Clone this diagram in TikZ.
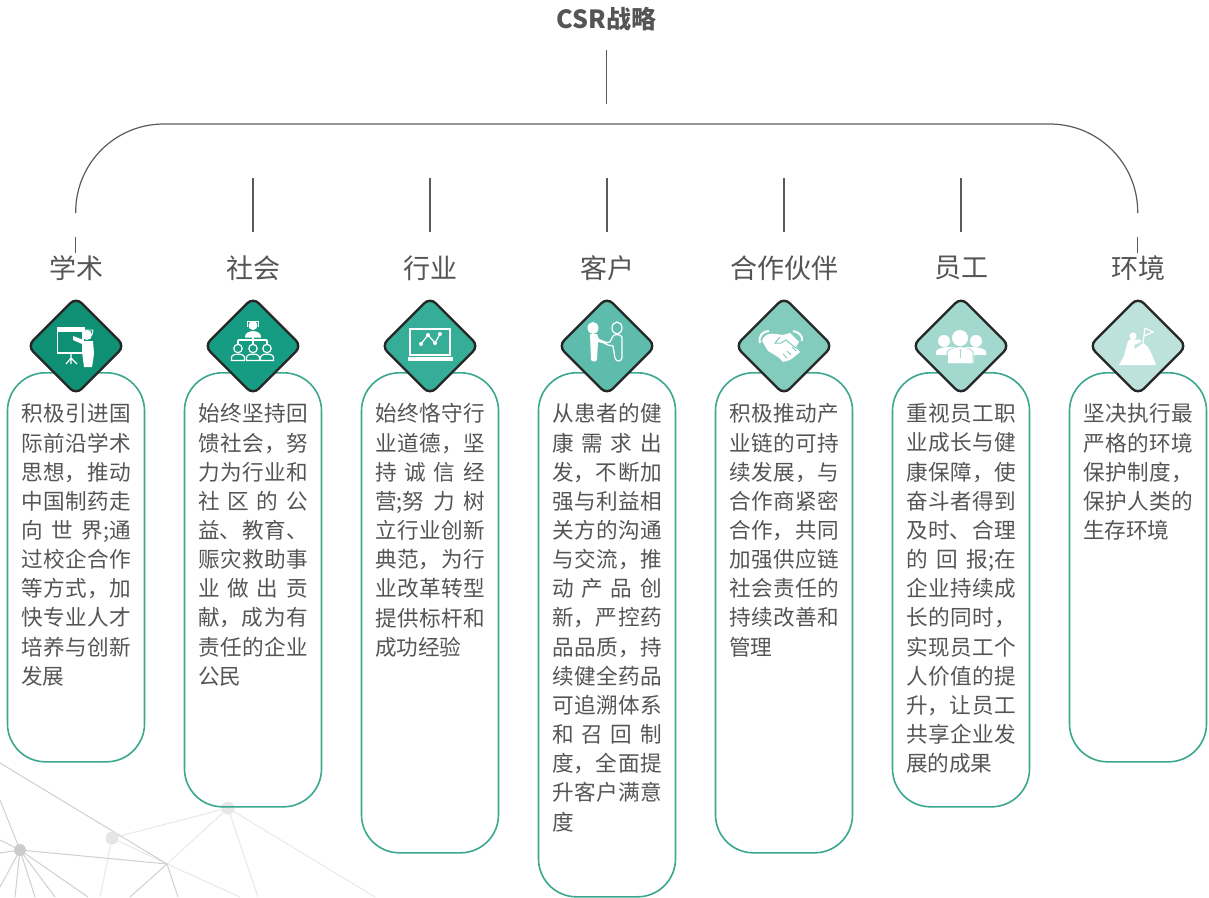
\documentclass[tikz,border=0pt]{standalone}
\usepackage{fontspec}
\setmainfont{Noto Sans CJK SC}
\usetikzlibrary{shapes.geometric}
\XeTeXlinebreaklocale "zh"
\XeTeXlinebreakskip=0pt plus 1em
\definecolor{dk}{HTML}{555555}
\definecolor{ln}{HTML}{5A5A5A}
\definecolor{boxln}{HTML}{3BA78F}
\definecolor{ca}{HTML}{0F8F73}
\definecolor{cb}{HTML}{169C82}
\definecolor{cc}{HTML}{36AE97}
\definecolor{cd}{HTML}{5DBCAB}
\definecolor{ce}{HTML}{82CBBD}
\definecolor{cf}{HTML}{A3D8CF}
\definecolor{cg}{HTML}{BDE2DB}
\newcommand{\nl}{\linebreak}
\newcommand{\sk}{\hspace{0pt plus 1em}}
\tikzset{
  stem/.style={draw=ln,line width=1.2pt},
  heading/.style={font=\fontsize{27}{30}\selectfont,text=dk,inner sep=0pt},
  cardbox/.style={draw=boxln,line width=1.6pt,rounded corners=38pt,minimum width=137pt,anchor=north,inner sep=0pt},
  cardtext/.style={font=\fontsize{21.6}{29.15}\selectfont,text=dk,text width=110pt,align=justify,anchor=north,inner sep=0pt},
  badge/.style={diamond,aspect=1,draw=black!85,line width=2.4pt,rounded corners=8pt,minimum width=98pt,minimum height=98pt,inner sep=0pt},
  net/.style={draw=black!19,line width=1pt},
  netlight/.style={draw=black!9,line width=1pt},
  ink/.style={fill=white,draw=none},
  inkline/.style={draw=white,line width=1.2pt}
}
\begin{document}
\begin{tikzpicture}[x=1pt,y=-1pt]
\useasboundingbox (0,0) rectangle (1209,897);

% background net
\coordinate (na) at (20,850);
\coordinate (nb) at (112,838);
\coordinate (nc) at (228,808);
\coordinate (nd) at (167,864);
\foreach \px/\py in {258/897,375/897,167/864,112/838}
  \draw[netlight] (nc) -- (\px,\py);
\foreach \px/\py in {100/897,167/864}
  \draw[netlight] (nb) -- (\px,\py);
\draw[netlight] (nd) -- (240,897);
\foreach \px/\py in {0/763,130/897,178/897}
  \draw[net] (nd) -- (\px,\py);
\foreach \px/\py in {167/864,0/800,0/840,0/853,0/887,15/897,35/897,55/897,88/897}
  \draw[net] (na) -- (\px,\py);
\fill[black!20] (na) circle (6pt);
\fill[black!10] (nb) circle (6.5pt);
\fill[black!9] (nc) circle (6.5pt);

% title and bracket
\node[font=\fontsize{25}{28}\selectfont\bfseries,text=dk,inner sep=0pt] (title) at (606.5,19) {CSR战略};
\coordinate (stemtop) at (606.5,50);
\coordinate (stembot) at (606.5,104);
\draw[stem] (stemtop) -- (stembot);
\coordinate (brl) at (75.7,213);
\coordinate (brr) at (1137.7,213);
\draw[stem,rounded corners=88pt] (brl) -- (75.7,124) -- (1137.7,124) -- (brr);

% columns
\foreach \i/\cx/\bb/\cc/\hd/\txt in {
 1/76/761/ca/学术/{积极引进国\nl 际前沿学术\nl 思想，推动\nl 中国制药走\nl 向\sk 世\sk\mbox{界;通}\nl 过校企合作\nl 等方式，加\nl 快专业人才\nl 培养与创新\nl 发展},
 2/253/806/cb/社会/{始终坚持回\nl 馈社会，努\nl 力为行业和\nl 社区的公\nl 益、教育、\nl 赈灾救助事\nl 业做出贡\nl 献，成为有\nl 责任的企业\nl 公民},
 3/430/852/cc/行业/{始终恪守行\nl 业道德，坚\nl 持诚信经\nl \mbox{营;努}\sk 力\sk 树\nl 立行业创新\nl 典范，为行\nl 业改革转型\nl 提供标杆和\nl 成功经验},
 4/607/896/cd/客户/{从患者的健\nl 康需求出\nl 发，不断加\nl 强与利益相\nl 关方的沟通\nl 与交流，推\nl 动产品创\nl 新，严控药\nl 品品质，持\nl 续健全药品\nl 可追溯体系\nl 和召回制\nl 度，全面提\nl 升客户满意\nl 度},
 5/784/852/ce/合作伙伴/{积极推动产\nl 业链的可持\nl 续发展，与\nl 合作商紧密\nl 合作，共同\nl 加强供应链\nl 社会责任的\nl 持续改善和\nl 管理},
 6/961/806/cf/员工/{重视员工职\nl 业成长与健\nl 康保障，使\nl 奋斗者得到\nl 及时、合理\nl 的\sk 回\sk\mbox{报;在}\nl 企业持续成\nl 长的同时，\nl 实现员工个\nl 人价值的提\nl 升，让员工\nl 共享企业发\nl 展的成果},
 7/1138/761/cg/环境/{坚决执行最\nl 严格的环境\nl 保护制度，\nl 保护人类的\nl 生存环境}} {
  \pgfmathsetmacro{\bh}{\bb-372}
  \node[cardbox,minimum height=\bh pt] (box\i) at (\cx,372) {};
  \node[cardtext] (txt\i) at (\cx,403.5) {\txt};
  \node[badge,fill=\cc] (badge\i) at (\cx,346) {};
  \node[heading] (head\i) at (\cx,268) {\hd};
}

% stems over the headings
\foreach \i/\cx in {2/253,3/430,4/607,5/784,6/961} {
  \coordinate (ta\i) at (\cx,178);
  \coordinate (tb\i) at (\cx,232);
  \draw[stem] (ta\i) -- (tb\i);
}
\foreach \i/\cx in {1/75.7,7/1137.7} {
  \coordinate (ta\i) at (\cx,237);
  \coordinate (tb\i) at (\cx,253);
  \draw[stem] (ta\i) -- (tb\i);
}

% icon teacher
\begin{scope}[shift={(badge1.center)}]
\draw[inkline] (-18.5,-16) rectangle (7,7);
\fill[ink] (-19,-19.5) rectangle (9,-14.5);
\draw[inkline] (-5,7) -- (-5,12) (-5,12) -- (-10,18) (-5,12) -- (1,18) (-5,12) -- (-5,18);
\fill[ink] (11,-11) circle (5pt);
\draw[inkline,line width=.8pt] (6,-16) -- (17,-16) -- (16,-11) (6,-16) -- (7,-11);
\fill[ink] (-3,-10) -- (5,-7) -- (8,-5) -- (17,-5) -- (18,8) -- (16,21) -- (8,21) -- (6,6) -- (6,-2) -- (-3,-6) -- cycle;
\end{scope}

% icon team
\begin{scope}[shift={(badge2.center)}]
\fill[ink] (0,-20.5) circle (4.5pt);
\draw[inkline,line width=.9pt] (-5.5,-25) -- (5.5,-25) (-5.5,-25) -- (-5.5,-19) (5.5,-25) -- (5.5,-19);
\fill[ink] (-8,-8.5) .. controls (-9,-17) and (9,-17) .. (8,-8.5) -- cycle;
\draw[inkline] (0,-9) -- (0,-2) (-15,-6) -- (14,-6) (-15,-6) -- (-15,-2) (14,-6) -- (14,-2);
\foreach \dx in {-15,0,14} {
  \draw[inkline] (\dx,2.5) circle (4.2pt);
  \draw[inkline] (\dx-6.5,14.5) -- (\dx-6.5,11.5) .. controls (\dx-6.5,7) and (\dx+6.5,7) .. (\dx+6.5,11.5) -- (\dx+6.5,14.5) -- cycle;
}
\end{scope}

% icon laptop
\begin{scope}[shift={(badge3.center)}]
\draw[inkline,line width=2pt] (-20,-17) rectangle (20,9);
\fill[ink] (-22,11) rectangle (23,15);
\draw[inkline] (-9,-2) -- (-2,-11) -- (5,-3) -- (10,-12);
\foreach \px/\py in {-9/-2,-2/-11,5/-3,10/-12}
  \fill[ink] (\px,\py) circle (2pt);
\end{scope}

% icon handshake of two
\begin{scope}[shift={(badge4.center)}]
\fill[ink] (-14,-18) ellipse (5.5pt and 6pt);
\fill[ink] (-17,-12) -- (-10,-12) -- (-8,-7) -- (0,-4) -- (0,-2) -- (-9,-4) -- (-10,14) .. controls (-11,16) and (-15,16) .. (-16,14) -- cycle;
\draw[inkline] (10,-18) ellipse (5pt and 6pt);
\draw[inkline] (-3,-3) -- (3,-4) -- (6,-10) .. controls (7,-12) and (14,-12) .. (15,-9) -- (15,12) .. controls (14,16) and (9,16) .. (8,12) -- (6,0) -- (1,-1) -- cycle;
\end{scope}

% icon handshake
\begin{scope}[shift={(badge5.center)}]
\draw[inkline,line width=2pt] (-24,-3) .. controls (-26,-10) and (-21,-15) .. (-15,-15);
\draw[inkline,line width=2pt] (18,-5) .. controls (19,-10) and (15,-14) .. (9,-15);
\fill[ink] (-22,-5) .. controls (-20,-12) and (-14,-13) .. (-8,-12) -- (-1,-11) -- (6,-13) -- (15,-4) -- (12,1) -- (16,6) -- (10,11) -- (6,14) -- (-1,16) -- (-6,11) -- (-16,5) -- cycle;
\draw[draw=ce,line width=1pt] (-4,-9) -- (-9,-3) -- (-3,-3) -- (2,-6) -- (13,3);
\draw[draw=ce,line width=1pt] (3,5) -- (7,9) (-1,8) -- (3,12) (8,1) -- (12,5);
\end{scope}

% icon people
\begin{scope}[shift={(badge6.center)}]
\fill[ink] (-17,-5) circle (6pt);
\fill[ink] (15,-5) circle (6pt);
\fill[ink] (-25,9) -- (-25,6) .. controls (-25,3) and (-20,2) .. (-14,1) -- (14,1) .. controls (20,2) and (25,3) .. (25,6) -- (25,9) -- (13,9) -- (13,17) -- (-13,17) -- (-13,9) -- cycle;
\draw[draw=cf,line width=1pt] (-1,-8) circle (9pt);
\fill[ink] (-1,-8) circle (8pt);
\draw[draw=cf,line width=1pt] (-14,17) -- (-14,6) .. controls (-13,3) and (-6,2) .. (-1,1) .. controls (4,2) and (11,3) .. (12,6) -- (12,17);
\fill[ink] (-13,17) -- (-13,6) .. controls (-12,3) and (-6,2) .. (-1,1) .. controls (4,2) and (10,3) .. (11,6) -- (11,17) -- cycle;
\draw[draw=cf,line width=.8pt] (-1,3) -- (-1,12);
\end{scope}

% icon mountain
\begin{scope}[shift={(badge7.center)}]
\fill[ink] (-19,19) -- (-14,10) -- (-10,-5) -- (-7,-7) -- (3,-6) -- (3,-4) -- (-4,-1) -- (-3,3) -- (5,-3) -- (10,1) -- (14,9) -- (18,19) -- cycle;
\fill[ink] (-5,-10) circle (3.5pt);
\draw[inkline] (5,-3) -- (7,-18);
\draw[inkline] (7,-18) -- (15,-14) -- (6,-10);
\end{scope}
\end{tikzpicture}
\end{document}
